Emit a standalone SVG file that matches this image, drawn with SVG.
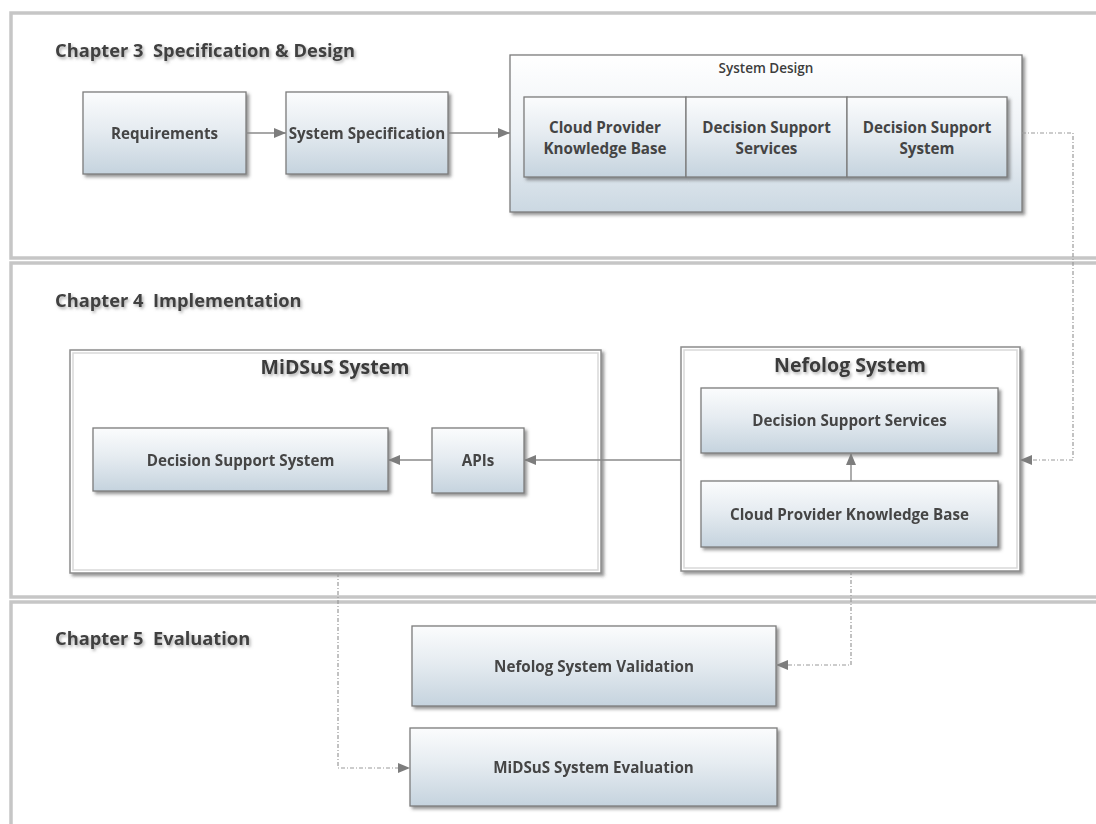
<svg xmlns="http://www.w3.org/2000/svg" width="1096" height="824" viewBox="0 0 1096 824">
  <defs>
    <linearGradient id="nodeFill" x1="0" y1="0" x2="0" y2="1">
      <stop offset="0" stop-color="#fbfcfd"/>
      <stop offset="0.45" stop-color="#e6ecf1"/>
      <stop offset="1" stop-color="#c5d3de"/>
    </linearGradient>
    <linearGradient id="groupFill" x1="0" y1="0" x2="0" y2="1">
      <stop offset="0" stop-color="#ffffff"/>
      <stop offset="0.5" stop-color="#eef2f6"/>
      <stop offset="1" stop-color="#cbd8e2"/>
    </linearGradient>
    <filter id="shadow" x="-5%" y="-5%" width="115%" height="125%">
      <feDropShadow dx="2.5" dy="2.5" stdDeviation="1.5" flood-color="#3c3c3c" flood-opacity="0.55"/>
    </filter>
    <filter id="textGlow" x="-5%" y="-30%" width="115%" height="170%">
      <feDropShadow dx="1.5" dy="2" stdDeviation="1.6" flood-color="#777" flood-opacity="0.6"/>
    </filter>
    <marker id="arrow" viewBox="0 0 12 10" refX="12" refY="5" markerWidth="12" markerHeight="10" markerUnits="userSpaceOnUse" orient="auto">
      <path d="M0,0 L12,5 L0,10 Z" fill="#7d7d7d"/>
    </marker>
    <style>
      .lane { fill: #ffffff; stroke: #c6c6c6; stroke-width: 3.5; }
      .chapter { font-family: "Open Sans", "Liberation Sans", sans-serif; font-weight: 700; font-size: 18.3px; fill: #3f3f3f; white-space: pre; }
      .node rect.box { fill: url(#nodeFill); stroke: #7b7b7b; stroke-width: 1.3; }
      .label { font-family: "Open Sans", "Liberation Sans", sans-serif; font-weight: 700; font-size: 15.2px; fill: #444444; text-anchor: middle; }
      .title { font-family: "Open Sans", "Liberation Sans", sans-serif; font-weight: 700; font-size: 19.5px; fill: #3a3a3a; text-anchor: middle; }
      .small { font-family: "Open Sans", "Liberation Sans", sans-serif; font-weight: 600; font-size: 13.5px; fill: #3d3d3d; text-anchor: middle; }
      .container { fill: #ffffff; stroke: #8c8c8c; stroke-width: 1.5; }
      .containerInner { fill: none; stroke: #d9d9d9; stroke-width: 1.5; }
      .solid { fill: none; stroke: #8a8a8a; stroke-width: 1.4; }
      .dashed { fill: none; stroke: #9a9a9a; stroke-width: 1.2; stroke-dasharray: 4 2 1 2; }
    </style>
  </defs>

  <rect width="1096" height="824" fill="#ffffff"/>

  <!-- swimlanes -->
  <g id="lanes">
    <rect class="lane" x="11" y="13" width="1100" height="245"/>
    <rect class="lane" x="11" y="263" width="1100" height="334"/>
    <rect class="lane" x="11" y="602" width="1100" height="230"/>
    <text class="chapter" x="55" y="57" xml:space="preserve" filter="url(#textGlow)">Chapter 3  Specification &amp; Design</text>
    <text class="chapter" x="55" y="307" xml:space="preserve" filter="url(#textGlow)">Chapter 4  Implementation</text>
    <text class="chapter" x="55" y="645" xml:space="preserve" filter="url(#textGlow)">Chapter 5  Evaluation</text>
  </g>

  <!-- Chapter 3 -->
  <g id="requirements" class="node" filter="url(#shadow)">
    <rect class="box" x="83" y="92" width="163" height="82"/>
    <text class="label" x="164.5" y="139">Requirements</text>
  </g>
  <g id="system-specification" class="node" filter="url(#shadow)">
    <rect class="box" x="286" y="92" width="162" height="82"/>
    <text class="label" x="367" y="139">System Specification</text>
  </g>
  <g id="system-design" class="node">
    <rect x="510" y="55" width="512" height="157" fill="url(#groupFill)" stroke="#7b7b7b" stroke-width="1.3" filter="url(#shadow)"/>
    <text class="small" x="766" y="73">System Design</text>
    <g filter="url(#shadow)">
      <rect class="box" x="524" y="97" width="162" height="80"/>
      <rect class="box" x="686" y="97" width="161" height="80"/>
      <rect class="box" x="847" y="97" width="160" height="80"/>
    </g>
    <text class="label" x="605" y="133">Cloud Provider</text>
    <text class="label" x="605" y="154">Knowledge Base</text>
    <text class="label" x="766.5" y="133">Decision Support</text>
    <text class="label" x="766.5" y="154">Services</text>
    <text class="label" x="927" y="133">Decision Support</text>
    <text class="label" x="927" y="154">System</text>
  </g>

  <!-- Chapter 4 -->
  <g id="midsus-system">
    <rect class="container" x="70" y="350" width="531" height="223" filter="url(#shadow)"/>
    <rect class="containerInner" x="73" y="353" width="525" height="217"/>
    <text class="title" x="335" y="374" filter="url(#textGlow)">MiDSuS System</text>
  </g>
  <g id="midsus-dss" class="node" filter="url(#shadow)">
    <rect class="box" x="93" y="428" width="295" height="63"/>
    <text class="label" x="240.5" y="466">Decision Support System</text>
  </g>
  <g id="midsus-apis" class="node" filter="url(#shadow)">
    <rect class="box" x="432" y="428" width="92" height="65"/>
    <text class="label" x="478" y="466">APIs</text>
  </g>

  <g id="nefolog-system">
    <rect class="container" x="681" y="347" width="339" height="224" filter="url(#shadow)"/>
    <rect class="containerInner" x="684" y="350" width="333" height="218"/>
    <text class="title" x="850" y="372" filter="url(#textGlow)">Nefolog System</text>
  </g>
  <g id="nefolog-dss" class="node" filter="url(#shadow)">
    <rect class="box" x="701" y="388" width="297" height="65"/>
    <text class="label" x="849.5" y="426">Decision Support Services</text>
  </g>
  <g id="nefolog-cpkb" class="node" filter="url(#shadow)">
    <rect class="box" x="701" y="481" width="297" height="66"/>
    <text class="label" x="849.5" y="520">Cloud Provider Knowledge Base</text>
  </g>

  <!-- Chapter 5 -->
  <g id="nefolog-validation" class="node" filter="url(#shadow)">
    <rect class="box" x="412" y="626" width="364" height="80"/>
    <text class="label" x="594" y="672">Nefolog System Validation</text>
  </g>
  <g id="midsus-evaluation" class="node" filter="url(#shadow)">
    <rect class="box" x="410" y="728" width="367" height="78"/>
    <text class="label" x="593.5" y="773">MiDSuS System Evaluation</text>
  </g>

  <!-- connectors -->
  <g id="connectors">
    <path class="solid" d="M246,133 H286" marker-end="url(#arrow)"/>
    <path class="solid" d="M448,133 H510" marker-end="url(#arrow)"/>
    <path class="solid" d="M681,460 H524" marker-end="url(#arrow)"/>
    <path class="solid" d="M432,460 H388" marker-end="url(#arrow)"/>
    <path class="solid" d="M851,481 V453" marker-end="url(#arrow)"/>
    <path class="dashed" d="M1022,133 H1073 V460 H1020" marker-end="url(#arrow)"/>
    <path class="dashed" d="M851,571 V665 H776" marker-end="url(#arrow)"/>
    <path class="dashed" d="M338,573 V768 H410" marker-end="url(#arrow)"/>
  </g>
</svg>
